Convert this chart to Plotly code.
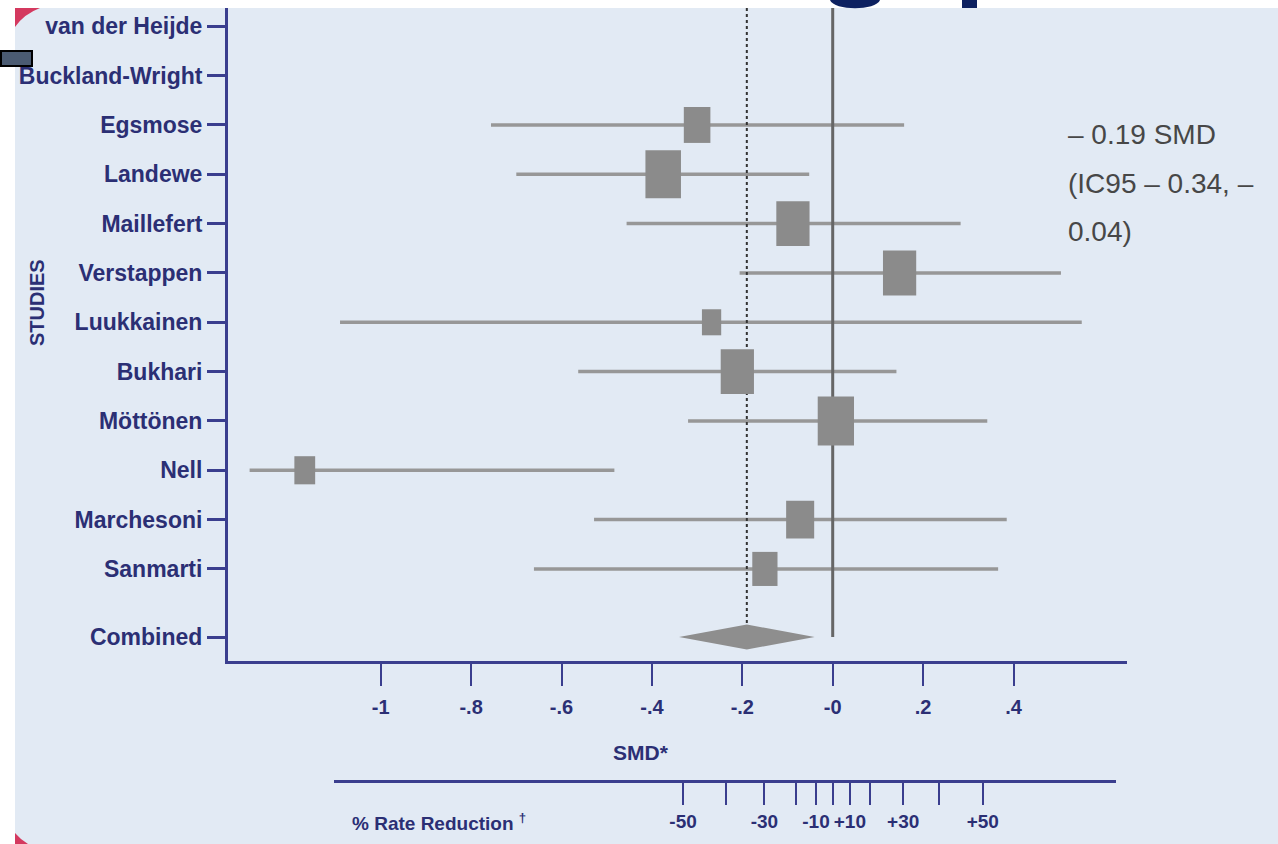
import math
import plotly.graph_objects as go

# ---------------- data ----------------
studies = ["van der Heijde", "Buckland-Wright", "Egsmose", "Landewe", "Maillefert",
           "Verstappen", "Luukkainen", "Bukhari", "Möttönen", "Nell", "Marchesoni", "Sanmarti"]
smd = [None, None, -0.300, -0.375, -0.088, 0.148, -0.268, -0.211, 0.007, -1.168, -0.072, -0.150]
ci_low = [None, None, -0.756, -0.700, -0.456, -0.206, -1.090, -0.563, -0.320, -1.290, -0.528, -0.661]
ci_high = [None, None, 0.158, -0.052, 0.283, 0.505, 0.551, 0.141, 0.342, -0.483, 0.385, 0.366]
weights = [None, None, 8.0, 14.3, 12.5, 12.5, 4.2, 12.5, 14.9, 4.9, 8.9, 7.2]

combined_label = "Combined"
combined_smd = -0.19
combined_low = -0.34
combined_high = -0.04

smd_ticks = [-1, -0.8, -0.6, -0.4, -0.2, 0, 0.2, 0.4]
smd_tick_labels = ["-1", "-.8", "-.6", "-.4", "-.2", "-0", ".2", ".4"]

# % rate reduction scale: labelled ticks and unlabelled intermediate ticks (positions in SMD units)
rate_labelled = [-50, -30, -10, 10, 30, 50]
rate_labelled_smd = [-0.331, -0.151, -0.037, 0.038, 0.156, 0.332]
rate_labelled_text = ["-50", "-30", "-10", "+10", "+30", "+50"]
rate_minor = [-40, -20, 0, 20, 40]
rate_minor_smd = [-0.235, -0.081, 0.0, 0.083, 0.235]

result_lines = ["– 0.19 SMD", "(IC95 – 0.34, –", "0.04)"]

# ---------------- layout geometry ----------------
W, H = 1278, 844
PLOT_L, PLOT_R, PLOT_T, PLOT_B = 228, 1127, 8, 661
X_ZERO_PX, X_PX_PER_UNIT = 832.7, 452.0
ROW0_PX, ROW_PX = 26.3, 49.33
COMBINED_GAP = 1.38
RATE_L, RATE_R, RATE_Y = 334, 1116, 781

def fx(p):
    return p / W

def fy(p):
    return 1 - p / H

x_range = [(PLOT_L - X_ZERO_PX) / X_PX_PER_UNIT, (PLOT_R - X_ZERO_PX) / X_PX_PER_UNIT]
y_range = [(PLOT_B - ROW0_PX) / ROW_PX, (PLOT_T - ROW0_PX) / ROW_PX]
rate_range = [(RATE_L - X_ZERO_PX) / X_PX_PER_UNIT, (RATE_R - X_ZERO_PX) / X_PX_PER_UNIT]

n = len(studies)
rows = list(range(n))
combined_row = n - 1 + COMBINED_GAP

NAVY = "#2B2F74"
AXIS = "#3A3E8E"
GREY_LINE = "#979797"
GREY_BOX = "#8B8B8B"
PANEL = "#E2EAF4"
FONT = "Liberation Sans, Arial, Helvetica, sans-serif"

fig = go.Figure()

# CI lines
cx, cy = [], []
for r, lo, hi in zip(rows, ci_low, ci_high):
    if lo is None:
        continue
    cx += [lo, hi, None]
    cy += [r, r, None]
fig.add_trace(go.Scatter(x=cx, y=cy, mode="lines", line=dict(color=GREY_LINE, width=3.5),
                         hoverinfo="skip", showlegend=False))

# reference lines: null effect and pooled estimate
fig.add_trace(go.Scatter(x=[0, 0], y=[y_range[1], combined_row], mode="lines",
                         line=dict(color="#666666", width=3), hoverinfo="skip", showlegend=False))
fig.add_trace(go.Scatter(x=[combined_smd, combined_smd], y=[y_range[1], combined_row], mode="lines",
                         line=dict(color="#333333", width=2, dash="dot"), hoverinfo="skip", showlegend=False))

# combined diamond
half_h = 12.5 / ROW_PX
fig.add_trace(go.Scatter(x=[combined_low, combined_smd, combined_high, combined_smd, combined_low],
                         y=[combined_row, combined_row - half_h, combined_row, combined_row + half_h, combined_row],
                         mode="lines", fill="toself", fillcolor="#8E8E8E", line=dict(width=0, color="#8E8E8E"),
                         hoverinfo="skip", showlegend=False))

# invisible anchors for the % rate reduction axes
fig.add_trace(go.Scatter(x=rate_labelled_smd, y=[y_range[0]] * len(rate_labelled_smd), xaxis="x2", yaxis="y",
                         mode="markers", marker=dict(size=1, color="rgba(0,0,0,0)"),
                         hoverinfo="skip", showlegend=False))
fig.add_trace(go.Scatter(x=rate_minor_smd, y=[y_range[0]] * len(rate_minor_smd), xaxis="x3", yaxis="y",
                         mode="markers", marker=dict(size=1, color="rgba(0,0,0,0)"),
                         hoverinfo="skip", showlegend=False))

shapes = []
# study weight boxes
for r, est, w in zip(rows, smd, weights):
    if est is None:
        continue
    h_px = math.sqrt(w * 161.36)
    hh = h_px / ROW_PX / 2
    hw = 0.74 * h_px / X_PX_PER_UNIT / 2
    shapes.append(dict(type="rect", xref="x", yref="y", x0=est - hw, x1=est + hw, y0=r - hh, y1=r + hh,
                       fillcolor=GREY_BOX, line=dict(width=0), layer="above"))

# slide decorations
shapes.append(dict(type="rect", xref="paper", yref="paper", x0=0, x1=fx(15), y0=0, y1=1,
                   fillcolor="white", line=dict(width=0), layer="above"))
shapes.append(dict(type="rect", xref="paper", yref="paper", x0=0, x1=1, y0=fy(8), y1=1,
                   fillcolor="white", line=dict(width=0), layer="above"))
shapes.append(dict(type="path", xref="paper", yref="paper",
                   path=f"M {fx(15)},{fy(8)} L {fx(40)},{fy(8)} Q {fx(24)},{fy(14)} {fx(15)},{fy(27)} Z",
                   fillcolor="#D4395F", line=dict(width=0), layer="above"))
shapes.append(dict(type="path", xref="paper", yref="paper",
                   path=f"M {fx(15)},{fy(833)} Q {fx(21)},{fy(840)} {fx(28)},{fy(844)} L {fx(15)},{fy(844)} Z",
                   fillcolor="#D4395F", line=dict(width=0), layer="above"))
shapes.append(dict(type="rect", xref="paper", yref="paper", x0=fx(1), x1=fx(32), y0=fy(66), y1=fy(51),
                   fillcolor="#4B5B72", line=dict(width=2, color="black"), layer="above"))
shapes.append(dict(type="path", xref="paper", yref="paper",
                   path=f"M {fx(830)},{fy(0)} C {fx(834)},{fy(11)} {fx(876)},{fy(11)} {fx(880)},{fy(0)} Z",
                   fillcolor="#0D2160", line=dict(width=0), layer="above"))
shapes.append(dict(type="rect", xref="paper", yref="paper", x0=fx(962), x1=fx(977), y0=fy(8), y1=1,
                   fillcolor="#0D2160", line=dict(width=0), layer="above"))

annotations = []
annotations.append(dict(text="<b>STUDIES</b>", x=fx(37), y=fy(303), xref="paper", yref="paper",
                        xanchor="center", yanchor="middle",
                        showarrow=False, textangle=-90, font=dict(family=FONT, size=20, color=NAVY)))
annotations.append(dict(text="<b>SMD*</b>", x=fx(641), y=fy(752), xref="paper", yref="paper",
                        xanchor="center", yanchor="middle",
                        showarrow=False, font=dict(family=FONT, size=21, color=NAVY)))
annotations.append(dict(text="<b>% Rate Reduction <sup>†</sup></b>", x=fx(350), y=fy(822), xref="paper",
                        yref="paper", xanchor="left", yanchor="middle", showarrow=False,
                        font=dict(family=FONT, size=19, color=NAVY)))
for line, ypix in zip(result_lines, [134, 183, 232]):
    annotations.append(dict(text=line, x=fx(1066), y=fy(ypix), xref="paper", yref="paper",
                            xanchor="left", yanchor="middle", showarrow=False,
                            font=dict(family=FONT, size=28, color="#474747")))

rate_axis_common = dict(domain=[fx(RATE_L), fx(RATE_R)], range=rate_range,
                        anchor="free", position=fy(RATE_Y), side="bottom", tickangle=0,
                        showline=True, linecolor=AXIS, linewidth=3,
                        ticks="outside", ticklen=22, tickwidth=2, tickcolor=AXIS,
                        showgrid=False, zeroline=False, automargin=False)

fig.update_layout(
    template="none",
    width=W, height=H,
    margin=dict(l=0, r=0, t=0, b=0),
    paper_bgcolor=PANEL, plot_bgcolor="rgba(0,0,0,0)",
    showlegend=False,
    shapes=shapes, annotations=annotations,
    xaxis=dict(domain=[fx(PLOT_L), fx(PLOT_R)], range=x_range, anchor="y",
               tickvals=smd_ticks, ticktext=smd_tick_labels, tickangle=0, ticklabelstandoff=4,
               showline=True, linecolor=AXIS, linewidth=3, mirror=False,
               ticks="outside", ticklen=22, tickwidth=2, tickcolor=AXIS,
               showgrid=False, zeroline=False, automargin=False,
               tickfont=dict(family=FONT, size=20, color=NAVY, weight="bold")),
    xaxis2=dict(**rate_axis_common, tickvals=rate_labelled_smd, ticktext=rate_labelled_text,
                tickfont=dict(family=FONT, size=19, color=NAVY, weight="bold")),
    xaxis3=dict(**rate_axis_common, tickvals=rate_minor_smd, showticklabels=False),
    yaxis=dict(domain=[fy(PLOT_B), fy(PLOT_T)], range=y_range, anchor="x",
               tickvals=rows + [combined_row], ticktext=studies + [combined_label],
               showline=True, linecolor=AXIS, linewidth=3,
               ticks="outside", ticklen=18, tickwidth=3, tickcolor=AXIS,
               showgrid=False, zeroline=False, automargin=False,
               tickfont=dict(family=FONT, size=23, color=NAVY, weight="bold")),
)

fig.write_html("out.html")
